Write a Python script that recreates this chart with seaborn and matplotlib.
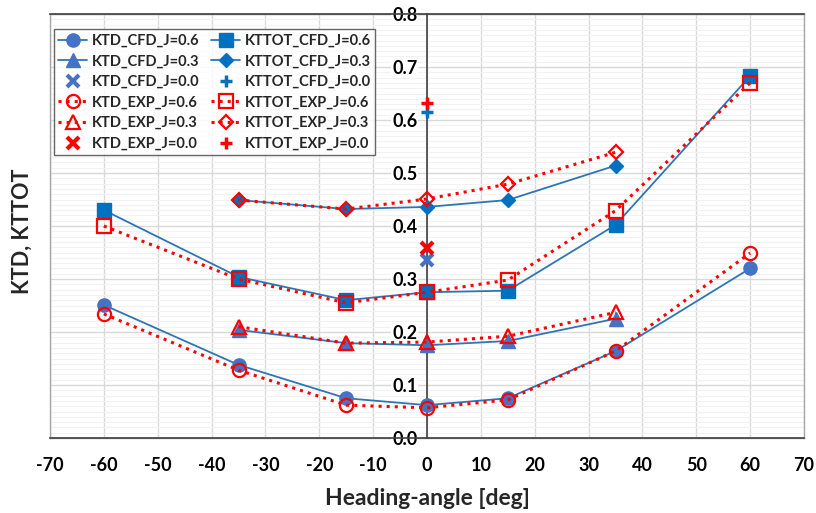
import matplotlib
matplotlib.use("Agg")
import matplotlib.pyplot as plt
from matplotlib.ticker import MultipleLocator
import seaborn as sns
import pandas as pd

# ---- data ----
angles_full = [-60, -35, -15, 0, 15, 35, 60]
angles_mid = [-35, -15, 0, 15, 35]
angle_zero = [0]

ktd_cfd_06 = [0.251, 0.138, 0.075, 0.062, 0.075, 0.164, 0.320]
ktd_exp_06 = [0.234, 0.128, 0.062, 0.057, 0.072, 0.164, 0.349]
ktd_cfd_03 = [0.204, 0.179, 0.175, 0.183, 0.225]
ktd_exp_03 = [0.210, 0.179, 0.181, 0.192, 0.237]
ktd_cfd_00 = [0.336]
ktd_exp_00 = [0.358]

kttot_cfd_06 = [0.430, 0.304, 0.260, 0.275, 0.278, 0.402, 0.683]
kttot_exp_06 = [0.400, 0.300, 0.255, 0.275, 0.298, 0.429, 0.670]
kttot_cfd_03 = [0.449, 0.432, 0.436, 0.449, 0.514]
kttot_exp_03 = [0.449, 0.432, 0.451, 0.479, 0.539]
kttot_cfd_00 = [0.615]
kttot_exp_00 = [0.633]

x_ticks = list(range(-70, 71, 10))
x_tick_labels = [str(v) for v in x_ticks]
y_ticks = [0.0, 0.1, 0.2, 0.3, 0.4, 0.5, 0.6, 0.7, 0.8]
y_tick_labels = ["0.0", "0.1", "0.2", "0.3", "0.4", "0.5", "0.6", "0.7", "0.8"]

BLUE_LINE = "#2E75B6"
BLUE_MK = "#4472C4"
BLUE_SQ = "#0070C0"
RED = "#FF0000"

sns.set_style("white")
plt.rcParams["font.family"] = ["Lato", "DejaVu Sans"]
plt.rcParams["font.weight"] = "bold"

fig = plt.figure(figsize=(8.16, 5.13), dpi=100)
pos = [50 / 816, 75 / 513, 754 / 816, 424 / 513]

# background axes carrying only the grid
bg = fig.add_axes(pos, zorder=0)
bg.set_xlim(-70, 70)
bg.set_ylim(0, 0.8)
bg.xaxis.set_major_locator(MultipleLocator(10))
bg.yaxis.set_major_locator(MultipleLocator(0.1))
bg.yaxis.set_minor_locator(MultipleLocator(0.01))
bg.grid(which="major", color="#D9D9D9", linewidth=1.0)
bg.yaxis.grid(True, which="minor", color="#F2F2F2", linewidth=0.8)
bg.tick_params(which="both", length=0, labelbottom=False, labelleft=False)
for side in ["left", "bottom", "top", "right"]:
    bg.spines[side].set_color("#A6A6A6")
    bg.spines[side].set_linewidth(1.0)

ax = fig.add_axes(pos, zorder=1)
ax.patch.set_visible(False)

def draw(x, y, label, color, marker, mfc, ls, lw, ms, mec=None, mew=1.5, z=2):
    df = pd.DataFrame({"x": x, "y": y})
    sns.lineplot(data=df, x="x", y="y", ax=ax, label=label, color=color,
                 marker=marker, markersize=ms, markerfacecolor=mfc,
                 markeredgecolor=mec if mec else color, markeredgewidth=mew,
                 linestyle=ls, linewidth=lw, zorder=z, legend=False,
                 estimator=None, sort=False)

series = [
    # KTD column
    (angles_full, ktd_cfd_06, "KTD_CFD_J=0.6", BLUE_LINE, "o", BLUE_MK, "-", 1.3, 9.5, BLUE_MK, 1.0, 3),
    (angles_mid, ktd_cfd_03, "KTD_CFD_J=0.3", BLUE_LINE, "^", BLUE_MK, "-", 1.3, 9.5, BLUE_MK, 1.0, 3),
    (angle_zero, ktd_cfd_00, "KTD_CFD_J=0.0", BLUE_MK, "x", BLUE_MK, "none", 0, 8, BLUE_MK, 3.0, 3),
    (angles_full, ktd_exp_06, "KTD_EXP_J=0.6", RED, "o", "none", ":", 2.2, 9.5, RED, 1.6, 4),
    (angles_mid, ktd_exp_03, "KTD_EXP_J=0.3", RED, "^", "none", ":", 2.2, 9.5, RED, 1.6, 4),
    (angle_zero, ktd_exp_00, "KTD_EXP_J=0.0", RED, "x", RED, "none", 0, 8, RED, 3.0, 4),
    # KTTOT column
    (angles_full, kttot_cfd_06, "KTTOT_CFD_J=0.6", BLUE_LINE, "s", BLUE_SQ, "-", 1.3, 9.5, BLUE_SQ, 1.0, 3),
    (angles_mid, kttot_cfd_03, "KTTOT_CFD_J=0.3", BLUE_LINE, "D", BLUE_SQ, "-", 1.3, 7.5, BLUE_SQ, 1.0, 3),
    (angle_zero, kttot_cfd_00, "KTTOT_CFD_J=0.0", BLUE_SQ, "+", BLUE_SQ, "none", 0, 9, BLUE_SQ, 2.5, 3),
    (angles_full, kttot_exp_06, "KTTOT_EXP_J=0.6", RED, "s", "none", ":", 2.2, 9.5, RED, 1.6, 4),
    (angles_mid, kttot_exp_03, "KTTOT_EXP_J=0.3", RED, "D", "none", ":", 2.2, 7.5, RED, 1.6, 4),
    (angle_zero, kttot_exp_00, "KTTOT_EXP_J=0.0", RED, "+", RED, "none", 0, 9, RED, 2.5, 4),
]
for s in series:
    draw(*s)

ax.grid(False)
# spines: y-axis at x=0 (set before ticks, since it resets the ticks)
ax.spines["left"].set_position(("data", 0))
for side in ["left", "bottom", "top"]:
    ax.spines[side].set_color("#404040")
    ax.spines[side].set_linewidth(1.2)
ax.spines["right"].set_visible(False)

ax.set_xlim(-70, 70)
ax.set_ylim(0, 0.8)
ax.tick_params(axis="y", which="major", direction="inout", length=8, width=1.0,
               color="#404040", pad=3, labelcolor="black", labelsize=13)
ax.tick_params(axis="y", which="minor", direction="in", length=4, width=0.8,
               color="#404040")
ax.tick_params(axis="x", which="major", direction="in", length=6, width=1.0,
               color="#404040", pad=14, labelcolor="black", labelsize=13)
ax.tick_params(axis="x", which="minor", direction="in", length=4, width=0.8,
               color="#404040")
ax.set_xticks(x_ticks, labels=x_tick_labels, fontweight="bold", fontsize=13)
ax.set_yticks(y_ticks, labels=y_tick_labels, fontweight="bold", fontsize=13)
ax.xaxis.set_minor_locator(MultipleLocator(5))
ax.yaxis.set_minor_locator(MultipleLocator(0.01))
for lab in ax.get_yticklabels():
    lab.set_bbox(dict(facecolor="white", edgecolor="none", pad=0.5))

ax.set_xlabel("Heading-angle [deg]", fontsize=16.5, fontweight="bold", labelpad=10)
ax.set_ylabel("")
fig.text(0.027, 0.55, "KTD, KTTOT", rotation=90, fontsize=15.5,
         fontweight="bold", ha="center", va="center")

handles, labels = ax.get_legend_handles_labels()
leg = ax.legend(handles, labels, ncol=2, loc="upper left",
                bbox_to_anchor=(0.003, 0.967), fontsize=10.5,
                frameon=True, fancybox=False, edgecolor="#404040",
                handlelength=2.0, handletextpad=0.3, columnspacing=0.8,
                labelspacing=0.45, borderpad=0.3, borderaxespad=0.1)
leg.get_frame().set_linewidth(1.0)
for t in leg.get_texts():
    t.set_fontweight("bold")
leg.set_zorder(10)

fig.savefig("out.png", dpi=100)
